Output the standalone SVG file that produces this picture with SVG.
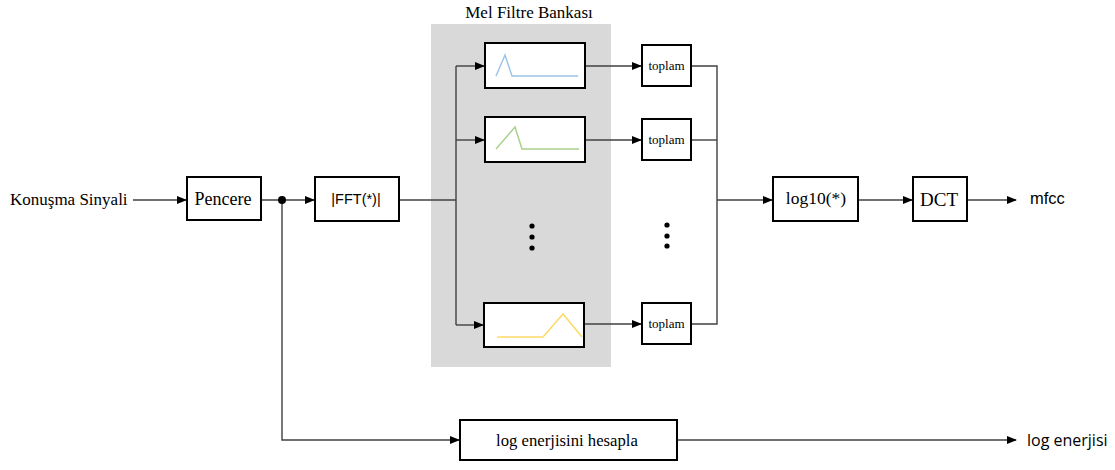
<svg xmlns="http://www.w3.org/2000/svg" width="1115" height="470" viewBox="0 0 1115 470">
<defs>
<marker id="ah" markerWidth="10" markerHeight="8" refX="9" refY="4" orient="auto" markerUnits="userSpaceOnUse">
<path d="M0,0 L10,4 L0,8 Z" fill="#000"/>
</marker>
<style>
.box{fill:#fff;stroke:#000;stroke-width:2}
.ln{fill:none;stroke:#404040;stroke-width:1.4}
.serif{font-family:"Liberation Serif",serif;fill:#000}
.sans{font-family:"Liberation Sans",Arial,sans-serif;fill:#000}
.open{font-family:"Open Sans","Noto Sans",sans-serif;fill:#000}
.dot{fill:#000}
</style>
</defs>
<rect width="1115" height="470" fill="#fff"/>
<rect id="melbank" x="431" y="24" width="180" height="343" fill="#d9d9d9"/>
<text class="serif" x="529" y="18" font-size="17" text-anchor="middle">Mel Filtre Bankası</text>

<g id="connectors">
<line class="ln" x1="133" y1="200" x2="186" y2="200" marker-end="url(#ah)"/>
<line class="ln" x1="261" y1="200" x2="314" y2="200" marker-end="url(#ah)"/>
<line class="ln" x1="399" y1="200" x2="456" y2="200"/>
<line class="ln" x1="456" y1="66" x2="456" y2="325"/>
<line class="ln" x1="456" y1="66" x2="484" y2="66" marker-end="url(#ah)"/>
<line class="ln" x1="456" y1="140" x2="484" y2="140" marker-end="url(#ah)"/>
<line class="ln" x1="456" y1="325" x2="483" y2="325" marker-end="url(#ah)"/>
<line class="ln" x1="586" y1="66" x2="641" y2="66" marker-end="url(#ah)"/>
<line class="ln" x1="586" y1="140" x2="641" y2="140" marker-end="url(#ah)"/>
<line class="ln" x1="585" y1="324" x2="641" y2="324" marker-end="url(#ah)"/>
<polyline class="ln" points="691,66 717,66 717,324 691,324"/>
<line class="ln" x1="691" y1="140" x2="717" y2="140"/>
<line class="ln" x1="717" y1="200" x2="772" y2="200" marker-end="url(#ah)"/>
<line class="ln" x1="858" y1="200" x2="912" y2="200" marker-end="url(#ah)"/>
<line class="ln" x1="967" y1="200" x2="1016" y2="200" marker-end="url(#ah)"/>
<polyline class="ln" points="282,200 282,440 459,440" marker-end="url(#ah)"/>
<line class="ln" x1="677" y1="440" x2="1016" y2="440" marker-end="url(#ah)"/>
<circle class="dot" cx="282" cy="200" r="4"/>
</g>

<text class="serif" x="10" y="205" font-size="17">Konuşma Sinyali</text>

<g id="pencere">
<rect class="box" x="187" y="177" width="74" height="43"/>
<text class="serif" x="223" y="205" font-size="18" text-anchor="middle">Pencere</text>
</g>
<g id="fft">
<rect class="box" x="315" y="177" width="84" height="44"/>
<text class="sans" x="356" y="204" font-size="14.5" text-anchor="middle">|FFT(*)|</text>
</g>

<g id="filter1">
<rect class="box" x="485" y="43" width="100" height="45"/>
<polyline points="496,76 505,55 512,76 578,76" fill="none" stroke="#9dc3e6" stroke-width="1.5"/>
</g>
<g id="filter2">
<rect class="box" x="485" y="117" width="100" height="45"/>
<polyline points="496,149 515,127 522,149 579,149" fill="none" stroke="#a9d18e" stroke-width="1.5"/>
</g>
<g id="filter3">
<rect class="box" x="484" y="303" width="100" height="44"/>
<polyline points="497,337 543,337 563,314 582,337" fill="none" stroke="#ffd966" stroke-width="1.5"/>
</g>
<g id="dots1">
<circle class="dot" cx="532" cy="226" r="2.6"/>
<circle class="dot" cx="532" cy="237" r="2.6"/>
<circle class="dot" cx="532" cy="248" r="2.6"/>
</g>
<g id="dots2">
<circle class="dot" cx="667" cy="225" r="2.6"/>
<circle class="dot" cx="667" cy="236" r="2.6"/>
<circle class="dot" cx="667" cy="246" r="2.6"/>
</g>

<g id="toplam1">
<rect class="box" x="642" y="45" width="49" height="41"/>
<text class="serif" x="666.5" y="70" font-size="13" text-anchor="middle">toplam</text>
</g>
<g id="toplam2">
<rect class="box" x="642" y="119" width="49" height="41"/>
<text class="serif" x="666.5" y="144" font-size="13" text-anchor="middle">toplam</text>
</g>
<g id="toplam3">
<rect class="box" x="642" y="303" width="49" height="41"/>
<text class="serif" x="666.5" y="328" font-size="13" text-anchor="middle">toplam</text>
</g>

<g id="log10">
<rect class="box" x="773" y="177" width="85" height="44"/>
<text class="serif" x="816" y="204" font-size="17.5" text-anchor="middle">log10(*)</text>
</g>
<g id="dct">
<rect class="box" x="913" y="177" width="54" height="44"/>
<text class="serif" x="939" y="206" font-size="19" text-anchor="middle">DCT</text>
</g>
<text class="sans" x="1030" y="204" font-size="16.5">mfcc</text>

<g id="logenerji">
<rect class="box" x="460" y="420" width="217" height="40"/>
<text class="serif" x="567" y="446" font-size="16.7" text-anchor="middle">log enerjisini hesapla</text>
</g>
<text class="open" x="1027" y="446" font-size="16">log enerjisi</text>
</svg>
